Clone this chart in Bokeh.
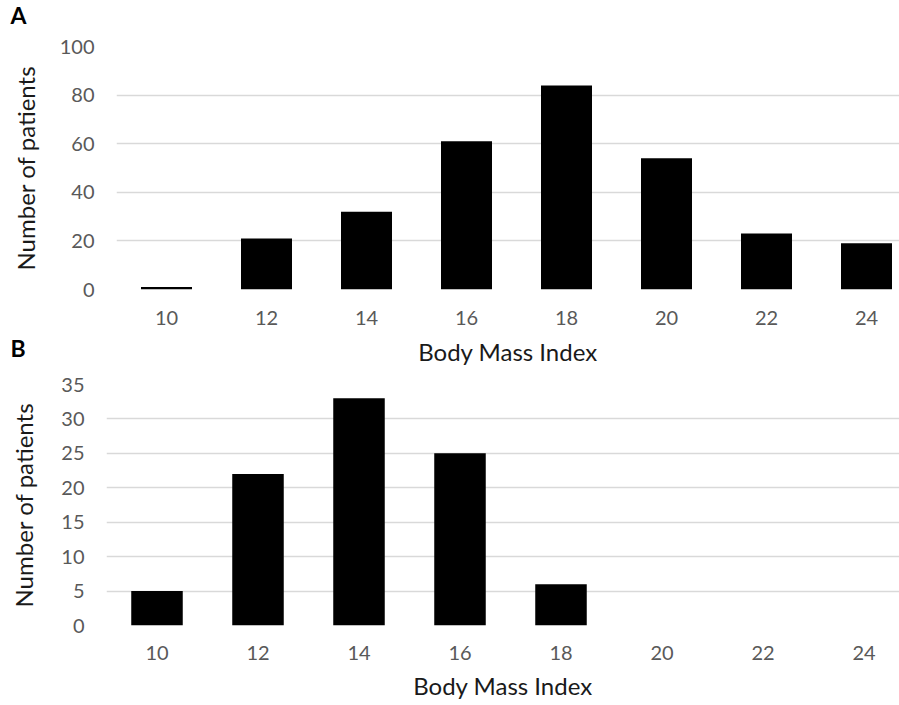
from bokeh.plotting import figure
from bokeh.models import Range1d, FixedTicker, Label, ColumnDataSource
from bokeh.layouts import column
from bokeh.embed import file_html
from bokeh.resources import INLINE

bmi = [10, 12, 14, 16, 18, 20, 22, 24]
patients_a = [1, 21, 32, 61, 84, 54, 23, 19]
patients_b = [5, 22, 33, 25, 6, 0, 0, 0]
ticks_a = [0, 20, 40, 60, 80, 100]
ticks_b = [0, 5, 10, 15, 20, 25, 30, 35]

FONT = "Lato"
TICK_COLOR = "#595959"
GRID_COLOR = "#d9d9d9"
W = 899


def make_panel(values, yticks, ymax, height, left, top, bottom, px_per_unit,
               y_std, y_label_std, x_std, x_label_std):
    x_end = 9 + (W - left) / px_per_unit
    p = figure(width=W, height=height, output_backend="svg", toolbar_location=None,
               x_range=Range1d(9, x_end), y_range=Range1d(0, ymax),
               min_border_left=left, min_border_right=0, min_border_top=top,
               min_border_bottom=bottom, frame_align=False)
    p.outline_line_color = None
    src = ColumnDataSource(dict(x=bmi, top=values))
    p.vbar(x="x", top="top", width=1.02, source=src, fill_color="#000000",
           line_color=None)
    p.xgrid.grid_line_color = None
    p.ygrid.grid_line_color = GRID_COLOR
    p.ygrid.grid_line_width = 1.3
    p.yaxis.ticker = FixedTicker(ticks=yticks)
    p.xaxis.ticker = FixedTicker(ticks=bmi)
    for ax in (p.xaxis[0], p.yaxis[0]):
        ax.axis_line_color = None
        ax.major_tick_line_color = None
        ax.minor_tick_line_color = None
        ax.major_tick_out = 0
        ax.major_tick_in = 0
        ax.minor_tick_out = 0
        ax.major_label_text_font = FONT
        ax.major_label_text_font_size = "20px"
        ax.major_label_text_color = TICK_COLOR
        ax.axis_label_text_font = FONT
        ax.axis_label_text_font_size = "24px"
        ax.axis_label_text_font_style = "normal"
        ax.axis_label_text_color = "#1a1a1a"
    p.xaxis.axis_label = "Body Mass Index"
    p.yaxis.axis_label = "Number of patients"
    p.xaxis.major_label_standoff = x_std
    p.xaxis.axis_label_standoff = x_label_std
    p.yaxis.major_label_standoff = y_std
    p.yaxis.axis_label_standoff = y_label_std
    return p


pa = make_panel(patients_a, ticks_a, 100, 372, 116, 46, 83, 50, 7, 17, 21, 9)
pb = make_panel(patients_b, ticks_b, 35, 333, 106, 12, 80, 50.5, 22, 20, 20, 8)

letter_x = 9 - 106 / 50
lab_a = Label(x=letter_x, y=100 + 18 / 2.43, text="A", text_font=FONT,
              text_font_size="23px", text_font_style="bold", text_color="#000000")
lab_b = Label(x=letter_x, y=-72 / 2.43, text="B", text_font=FONT,
              text_font_size="23px", text_font_style="bold", text_color="#000000")
# letters live in side panels so they are not clipped to the plot frame
pa.add_layout(lab_a, "above")
pa.add_layout(lab_b, "left")
pa.left = [lab_b, pa.yaxis[0]]

layout = column(pa, pb, spacing=0)
open("out.html", "w").write(file_html(layout, INLINE))
